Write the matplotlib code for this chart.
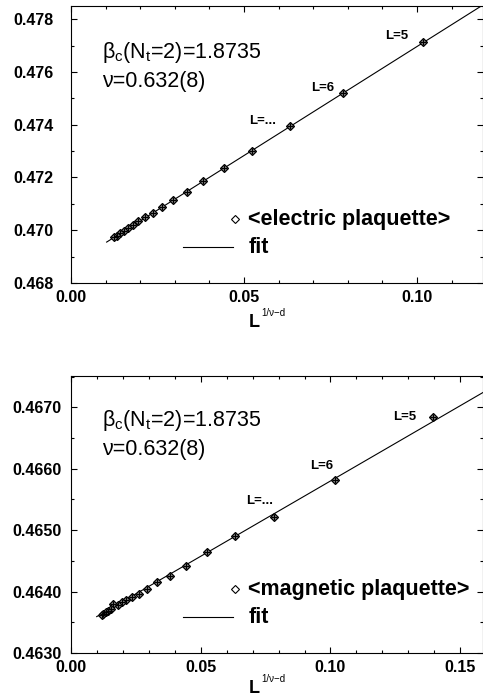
import numpy as np
import matplotlib.pyplot as plt
from matplotlib.ticker import MultipleLocator, FormatStrFormatter

plt.rcParams['font.family'] = ['Liberation Sans', 'DejaVu Sans']
plt.rcParams['mathtext.fontset'] = 'custom'
plt.rcParams['mathtext.rm'] = 'Liberation Sans'
plt.rcParams['mathtext.it'] = 'Liberation Sans:italic'
plt.rcParams['mathtext.bf'] = 'Liberation Sans:bold'

# electric plaquette (top panel)
x_el = [0.1018, 0.0785, 0.0633, 0.0524, 0.0443, 0.0381, 0.0334, 0.0294, 0.0263,
        0.0237, 0.0215, 0.0195, 0.0180, 0.0166, 0.0154, 0.0143, 0.0133, 0.0125]
y_el = [0.47715, 0.47520, 0.47394, 0.47302, 0.47236, 0.47186, 0.47146, 0.47114,
        0.47087, 0.47067, 0.47051, 0.47034, 0.47019, 0.47007, 0.46997, 0.46988,
        0.46980, 0.46973]
fit_el = (0.46870, 0.08263)   # intercept, slope
fit_el_x = [0.0103, 0.125]

# magnetic plaquette (bottom panel)
x_mag = [0.1397, 0.1019, 0.0784, 0.0633, 0.0523, 0.0442, 0.0382, 0.0333, 0.0294,
         0.0262, 0.0236, 0.0213, 0.0195, 0.0180, 0.0163, 0.0154, 0.0143, 0.0133,
         0.0125, 0.0120]
y_mag = [0.46684, 0.46582, 0.46522, 0.46491, 0.46464, 0.46441, 0.46426, 0.46415,
         0.46405, 0.46396, 0.46392, 0.46387, 0.46383, 0.46379, 0.46380, 0.46372,
         0.46369, 0.46366, 0.46364, 0.46362]
fit_mag = (0.46335, 0.02451)
fit_mag_x = [0.0099, 0.165]

panels = [
    dict(x=x_el, y=y_el, fit=fit_el, fx=fit_el_x, xlim=(0, 0.1191), ylim=(0.468, 0.4785),
         ymaj=0.002, ymin=0.001, yfmt='%.3f', ypad=12.5, leg='<electric plaquette>',
         labels=[('L=5', 0.0942, 0.47737), ('L=6', 0.0728, 0.47538), ('L=...', 0.0555, 0.47415)],
         rect=[0.147, 0.5957, 0.853, 0.3957], ytxt=(0.834, 0.729), xlab=(-0.141, -0.108)),
    dict(x=x_mag, y=y_mag, fit=fit_mag, fx=fit_mag_x, xlim=(0, 0.1588), ylim=(0.4630, 0.46751),
         ymaj=0.001, ymin=0.0005, yfmt='%.4f', ypad=7, leg='<magnetic plaquette>',
         labels=[('L=5', 0.1288, 0.46684), ('L=6', 0.0966, 0.46605), ('L=...', 0.0726, 0.46547)],
         rect=[0.147, 0.0671, 0.853, 0.3957], ytxt=(0.838, 0.733), xlab=(-0.128, -0.095)),
]

fig = plt.figure(figsize=(4.83, 7.0), dpi=100)

for p in panels:
    ax = fig.add_axes(p['rect'])
    a, b = p['fit']
    fx = np.array(p['fx'])
    ax.plot(fx, a + b * fx, color='black', lw=0.8)
    ax.plot(p['x'], p['y'], 'D', ms=4.5, mfc='#888888', mec='black', mew=0.9)
    ax.plot(p['x'], p['y'], '+', ms=4.5, color='black', mew=0.8)

    ax.set_xlim(*p['xlim'])
    ax.set_ylim(*p['ylim'])
    ax.xaxis.set_major_locator(MultipleLocator(0.05))
    ax.xaxis.set_minor_locator(MultipleLocator(0.01))
    ax.yaxis.set_major_locator(MultipleLocator(p['ymaj']))
    ax.yaxis.set_minor_locator(MultipleLocator(p['ymin']))
    ax.xaxis.set_major_formatter(FormatStrFormatter('%.2f'))
    ax.yaxis.set_major_formatter(FormatStrFormatter(p['yfmt']))
    ax.tick_params(which='both', direction='in', top=True, right=True, width=0.8)
    ax.tick_params(which='major', length=4.5, labelsize=11.5)
    ax.tick_params(axis='x', which='major', pad=5)
    ax.tick_params(axis='y', which='major', pad=p['ypad'])
    ax.tick_params(which='minor', length=2.5)
    for lab in ax.get_xticklabels() + ax.get_yticklabels():
        lab.set_fontweight('bold')
    for s in ax.spines.values():
        s.set_linewidth(0.8)

    ax.text(0.075, p['ytxt'][0], r'β$_\mathrm{c}$(N$_\mathrm{t}$=2)=1.8735',
            transform=ax.transAxes, fontsize=15.5, va='center')
    ax.text(0.075, p['ytxt'][1], 'ν=0.632(8)', transform=ax.transAxes,
            fontsize=15.5, va='center')

    for t, tx, ty in p['labels']:
        ax.text(tx, ty, t, fontsize=9.5, fontweight='bold', ha='center', va='center')

    # legend drawn by hand
    ax.plot([0.398], [0.231], 'D', ms=4, mfc='white', mec='black', mew=0.8,
            transform=ax.transAxes)
    ax.text(0.43, 0.231, p['leg'], transform=ax.transAxes, fontsize=15.5,
            fontweight='bold', va='center')
    ax.plot([0.272, 0.393], [0.130, 0.130], color='black', lw=0.8, transform=ax.transAxes)
    ax.text(0.43, 0.130, 'fit', transform=ax.transAxes, fontsize=15.5,
            fontweight='bold', va='center')

    ax.text(0.432, p['xlab'][0], 'L', transform=ax.transAxes, fontsize=13,
            fontweight='bold', va='center', clip_on=False)
    ax.text(0.462, p['xlab'][1], '1/ν−d', transform=ax.transAxes, fontsize=7,
            va='center', clip_on=False)

plt.savefig('out.png', dpi=100)
